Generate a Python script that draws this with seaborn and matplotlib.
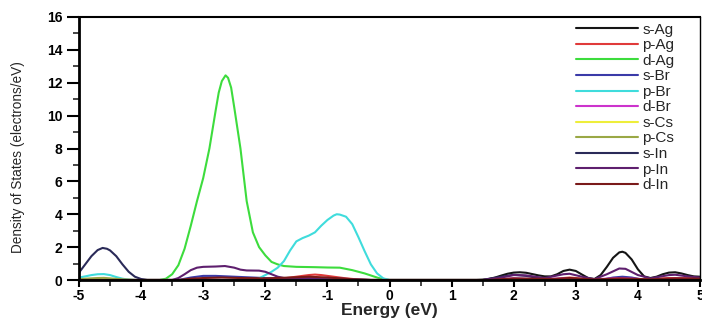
import numpy as np
import pandas as pd
import matplotlib
matplotlib.use("Agg")
import matplotlib.pyplot as plt
import seaborn as sns
from matplotlib.ticker import MultipleLocator

# ---- data ----
series_names = ["s-Ag", "p-Ag", "d-Ag", "s-Br", "p-Br", "d-Br",
                "s-Cs", "p-Cs", "s-In", "p-In", "d-In"]
series_colors = ["#151515", "#e03a3a", "#3ddc3d", "#3a3aa8", "#3fdcdc", "#cc33cc",
                 "#eeee3a", "#9aa845", "#2a2a58", "#5e1f6e", "#7a1a1a"]

s_Ag_x = [-5.0, 1.4, 1.5, 1.6, 1.7, 1.8, 1.9, 2.0, 2.1, 2.2, 2.3, 2.4, 2.5, 2.6, 2.7, 2.8, 2.9,
          3.0, 3.1, 3.2, 3.3, 3.4, 3.5, 3.6, 3.7, 3.75, 3.8, 3.9, 4.0, 4.1, 4.2, 4.3, 4.4,
          4.5, 4.6, 4.7, 4.8, 4.9, 5.0]
s_Ag_y = [0.0, 0.0, 0.02, 0.07, 0.15, 0.27, 0.38, 0.45, 0.47, 0.44, 0.36, 0.28, 0.22, 0.22,
          0.35, 0.55, 0.63, 0.55, 0.33, 0.12, 0.06, 0.3, 0.8, 1.35, 1.68, 1.72, 1.65, 1.25,
          0.65, 0.22, 0.12, 0.2, 0.35, 0.45, 0.47, 0.4, 0.3, 0.22, 0.2]

p_Ag_x = [-5.0, -1.9, -1.7, -1.5, -1.3, -1.2, -1.1, -0.9, -0.7, -0.5, -0.3, 2.6, 2.8, 2.9,
          3.0, 3.2, 3.5, 3.75, 4.0, 4.2, 4.5, 5.0]
p_Ag_y = [0.0, 0.0, 0.1, 0.2, 0.3, 0.33, 0.3, 0.2, 0.1, 0.03, 0.0, 0.0, 0.12, 0.15,
          0.12, 0.02, 0.06, 0.15, 0.06, 0.05, 0.12, 0.1]

d_Ag_x = [-5.0, -3.7, -3.6, -3.5, -3.4, -3.3, -3.2, -3.1, -3.0, -2.9, -2.8, -2.75, -2.7,
          -2.64, -2.6, -2.55, -2.5, -2.4, -2.3, -2.2, -2.1, -2.0, -1.9, -1.8, -1.7, -1.5,
          -1.2, -1.0, -0.8, -0.6, -0.4, -0.2, -0.1, 0.0, 5.0]
d_Ag_y = [0.0, 0.0, 0.08, 0.35, 0.9, 1.9, 3.3, 4.8, 6.2, 8.0, 10.3, 11.4, 12.1,
          12.45, 12.3, 11.7, 10.5, 8.0, 4.8, 2.9, 2.0, 1.5, 1.1, 0.95, 0.85, 0.8,
          0.78, 0.76, 0.75, 0.6, 0.4, 0.15, 0.04, 0.0, 0.0]

s_Br_x = [-5.0, -3.4, -3.2, -3.0, -2.8, -2.5, -2.2, -1.9, -1.6, -1.3, -1.0, -0.6, -0.3,
          3.4, 3.6, 3.75, 3.9, 4.1, 5.0]
s_Br_y = [0.0, 0.0, 0.15, 0.25, 0.25, 0.2, 0.15, 0.1, 0.1, 0.12, 0.1, 0.05, 0.0,
          0.0, 0.15, 0.2, 0.15, 0.0, 0.0]

p_Br_x = [-5.0, -4.9, -4.8, -4.7, -4.6, -4.5, -4.4, -4.3, -4.2, -4.1, -2.2, -2.1, -2.0,
          -1.9, -1.8, -1.7, -1.6, -1.5, -1.4, -1.3, -1.2, -1.1, -1.0, -0.9, -0.85, -0.8,
          -0.7, -0.6, -0.5, -0.4, -0.3, -0.2, -0.1, 0.0, 5.0]
p_Br_y = [0.15, 0.22, 0.3, 0.35, 0.36, 0.3, 0.18, 0.08, 0.02, 0.0, 0.0, 0.1, 0.3,
          0.5, 0.75, 1.15, 1.8, 2.35, 2.55, 2.7, 2.9, 3.3, 3.65, 3.92, 4.0, 3.98,
          3.85, 3.4, 2.6, 1.75, 0.95, 0.4, 0.1, 0.0, 0.0]

d_Br_x = [-5.0, 1.6, 2.0, 2.4, 2.8, 3.2, 3.7, 4.2, 4.6, 5.0]
d_Br_y = [0.0, 0.0, 0.1, 0.04, 0.1, 0.02, 0.12, 0.03, 0.08, 0.05]

s_Cs_x = [-5.0, 1.8, 2.2, 2.8, 3.4, 4.0, 5.0]
s_Cs_y = [0.0, 0.0, 0.03, 0.05, 0.03, 0.04, 0.03]

p_Cs_x = [-5.0, -4.9, -4.7, -4.6, -4.5, -4.3, -4.1, 5.0]
p_Cs_y = [0.05, 0.08, 0.12, 0.13, 0.1, 0.04, 0.0, 0.0]

s_In_x = [-5.0, -4.9, -4.8, -4.7, -4.62, -4.55, -4.5, -4.4, -4.3, -4.2, -4.1, -4.0, -3.9,
          1.5, 1.8, 2.0, 2.2, 2.5, 5.0]
s_In_y = [0.45, 0.95, 1.45, 1.82, 1.95, 1.9, 1.8, 1.45, 0.95, 0.5, 0.2, 0.06, 0.0,
          0.0, 0.2, 0.32, 0.25, 0.05, 0.0]

p_In_x = [-5.0, -3.5, -3.4, -3.3, -3.2, -3.1, -3.0, -2.8, -2.65, -2.5, -2.4, -2.3, -2.1,
          -2.0, -1.9, -1.8, -1.7, -1.5, -1.2, -0.9, 1.5, 1.8, 2.0, 2.2, 2.5, 2.8, 2.9,
          3.1, 3.3, 3.5, 3.7, 3.8, 4.0, 4.2, 4.5, 4.6, 4.8, 5.0]
p_In_y = [0.0, 0.0, 0.12, 0.35, 0.6, 0.75, 0.8, 0.82, 0.85, 0.75, 0.63, 0.58, 0.57,
          0.5, 0.35, 0.2, 0.12, 0.1, 0.06, 0.0, 0.0, 0.15, 0.3, 0.28, 0.12, 0.35, 0.38,
          0.2, 0.05, 0.35, 0.7, 0.68, 0.3, 0.1, 0.3, 0.32, 0.22, 0.15]

d_In_x = [-5.0, -3.4, -3.2, -3.0, -2.7, -2.4, -2.0, -1.6, -1.3, -1.0, -0.6, -0.3, 1.6,
          2.0, 2.6, 2.9, 3.3, 3.7, 4.2, 4.6, 5.0]
d_In_y = [0.0, 0.0, 0.08, 0.12, 0.15, 0.12, 0.1, 0.15, 0.2, 0.15, 0.05, 0.0, 0.0,
          0.1, 0.06, 0.12, 0.03, 0.1, 0.04, 0.1, 0.08]

series_x = [s_Ag_x, p_Ag_x, d_Ag_x, s_Br_x, p_Br_x, d_Br_x, s_Cs_x, p_Cs_x, s_In_x, p_In_x, d_In_x]
series_y = [s_Ag_y, p_Ag_y, d_Ag_y, s_Br_y, p_Br_y, d_Br_y, s_Cs_y, p_Cs_y, s_In_y, p_In_y, d_In_y]

x_ticks = [-5, -4, -3, -2, -1, 0, 1, 2, 3, 4, 5]
y_ticks = [0, 2, 4, 6, 8, 10, 12, 14, 16]

rows = []
for name, xs, ys in zip(series_names, series_x, series_y):
    for xv, yv in zip(xs, ys):
        rows.append((name, xv, yv))
df = pd.DataFrame(rows, columns=["orbital", "energy", "dos"])

# ---- plot ----
sns.set_theme(style="ticks")
plt.rcParams["font.family"] = ["Liberation Sans", "DejaVu Sans"]
plt.rcParams["axes.unicode_minus"] = False

fig = plt.figure(figsize=(7.02, 3.2), dpi=100)
ax = fig.add_axes([79 / 702, 1 - 280 / 320, 621 / 702, 263 / 320])

sns.lineplot(data=df, x="energy", y="dos", hue="orbital", hue_order=series_names,
             palette=dict(zip(series_names, series_colors)), estimator=None,
             sort=False, linewidth=1.5, ax=ax)

ax.set_xlim(-5, 5)
ax.set_ylim(0, 16)
ax.set_xticks(x_ticks)
ax.set_yticks(y_ticks)
ax.xaxis.set_minor_locator(MultipleLocator(0.5))
ax.yaxis.set_minor_locator(MultipleLocator(1))
ax.tick_params(which="major", direction="out", width=1.5, labelsize=10,
               colors="black")
ax.tick_params(axis="x", which="major", length=5, pad=1.5)
ax.tick_params(axis="y", which="major", length=9, pad=3)
ax.tick_params(which="minor", direction="out", length=4, width=1.2)
for lbl in ax.get_xticklabels() + ax.get_yticklabels():
    lbl.set_fontweight("bold")

for side in ["left", "bottom"]:
    ax.spines[side].set_linewidth(2.0)
    ax.spines[side].set_color("black")
ax.spines["top"].set_linewidth(1.5)
ax.spines["top"].set_color("black")
ax.spines["right"].set_linewidth(1.0)
ax.spines["right"].set_color("black")

ax.set_xlabel("Energy (eV)", fontsize=12.5, fontweight="bold", labelpad=0)
ax.set_ylabel("Density of States (electrons/eV)", fontsize=9.8,
              family=["Liberation Sans Narrow", "Liberation Sans", "DejaVu Sans"])
ax.yaxis.set_label_coords(-0.087, 0.468)

leg = ax.legend(loc="upper left", bbox_to_anchor=(0.801, 0.978), frameon=False,
                fontsize=11, handlelength=4.0, handletextpad=0.3, labelspacing=0.1,
                borderpad=0, borderaxespad=0)
for line in leg.get_lines():
    line.set_linewidth(1.5)

fig.savefig("out.png", dpi=100)
